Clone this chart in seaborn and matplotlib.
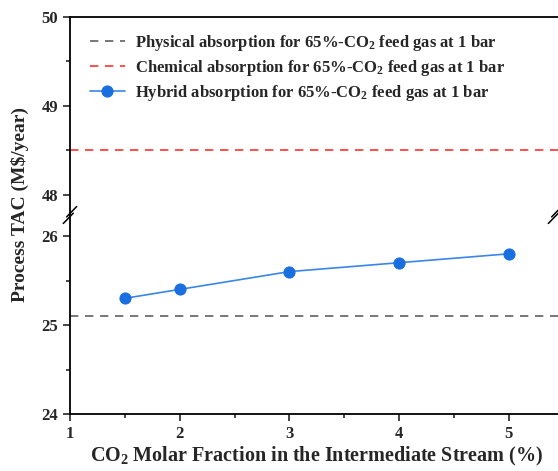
import matplotlib
matplotlib.use('Agg')
import matplotlib.pyplot as plt
import seaborn as sns
import pandas as pd

# data
co2_frac = [1.5, 2, 3, 4, 5]
hybrid_tac = [25.3, 25.4, 25.6, 25.7, 25.8]
physical_tac = 25.1
chemical_tac = 48.5

labels = [
    'Physical absorption for 65%-CO$_2$ feed gas at 1 bar',
    'Chemical absorption for 65%-CO$_2$ feed gas at 1 bar',
    'Hybrid absorption for 65%-CO$_2$ feed gas at 1 bar',
]

sns.set_theme(style='ticks')
plt.rcParams['font.family'] = ['Liberation Serif', 'DejaVu Serif']
plt.rcParams['font.weight'] = 'bold'
plt.rcParams['mathtext.fontset'] = 'custom'
plt.rcParams['mathtext.rm'] = 'Liberation Serif:bold'
plt.rcParams['mathtext.it'] = 'Liberation Serif:bold'
plt.rcParams['mathtext.bf'] = 'Liberation Serif:bold'
plt.rcParams['mathtext.default'] = 'rm'

df = pd.DataFrame({'x': co2_frac, 'y': hybrid_tac})

fig = plt.figure(figsize=(5.58, 4.71), dpi=100)
left, right = 0.1254, 1.01
brk = 0.5435
ax_top = fig.add_axes([left, brk, right - left, 0.964 - brk])
ax_bot = fig.add_axes([left, 0.121, right - left, brk - 0.121], sharex=ax_top)

gray = '#606060'
red = '#ff3030'
blue = '#1a6fe0'

for ax in (ax_top, ax_bot):
    ax.axhline(physical_tac, color=gray, ls=(0, (5, 4)), lw=1.2, label=labels[0])
    ax.axhline(chemical_tac, color=red, ls=(0, (5, 4)), lw=1.2, label=labels[1])
    sns.lineplot(data=df, x='x', y='y', ax=ax, color='#3a86e8', lw=1.2,
                 marker='o', markersize=8, markerfacecolor=blue,
                 markeredgecolor=blue, label=labels[2], legend=False)
    ax.set_xlabel('')
    ax.set_ylabel('')
    ax.tick_params(axis='both', which='major', direction='out', length=5, width=1.2,
                   labelsize=12)
    ax.tick_params(axis='both', which='minor', direction='out', length=3, width=1.2)
    for s in ax.spines.values():
        s.set_linewidth(1.3)
        s.set_color('black')
    ax.spines['right'].set_visible(False)

ax_top.set_ylim(47.77, 50)
ax_bot.set_ylim(24, 26.236)
ax_top.set_yticks([48, 49, 50])
ax_top.set_yticks([48.5, 49.5], minor=True)
ax_bot.set_yticks([24, 25, 26])
ax_bot.set_yticks([24.5, 25.5], minor=True)
ax_bot.set_xlim(1, 5.5)
ax_bot.set_xticks([1, 2, 3, 4, 5])
ax_bot.set_xticks([1.5, 2.5, 3.5, 4.5], minor=True)

ax_top.spines['bottom'].set_visible(False)
ax_bot.spines['top'].set_visible(False)
ax_top.tick_params(axis='x', which='both', bottom=False, labelbottom=False)

for t in ax_top.get_yticklabels() + ax_bot.get_yticklabels() + ax_bot.get_xticklabels():
    t.set_fontweight('bold')

# break marks on the spines
for xf in (0.0, (555 / 558 - left) / (right - left)):
    xc = left + xf * (right - left)
    fig.lines.append(plt.Line2D([xc - 0.012, xc + 0.006], [brk - 0.018, brk + 0.004],
                                color='black', lw=1.1, transform=fig.transFigure))
    fig.lines.append(plt.Line2D([xc - 0.006, xc + 0.012], [brk - 0.004, brk + 0.018],
                                color='black', lw=1.1, transform=fig.transFigure))

ax_top.legend(loc='upper left', frameon=False, prop={'weight': 'bold', 'size': 12},
              labelspacing=0.32, handlelength=2.1, handletextpad=0.6, borderaxespad=0.5,
              bbox_to_anchor=(0.01, 0.997))

ax_bot.set_xlabel('CO$_2$ Molar Fraction in the Intermediate Stream (%)',
                  fontsize=14.5, fontweight='bold', labelpad=2)
fig.text(0.036, 0.565, 'Process TAC (M$/year)', rotation=90, ha='center', va='center',
         fontsize=14, fontweight='bold')

fig.savefig('out.png', dpi=100)
